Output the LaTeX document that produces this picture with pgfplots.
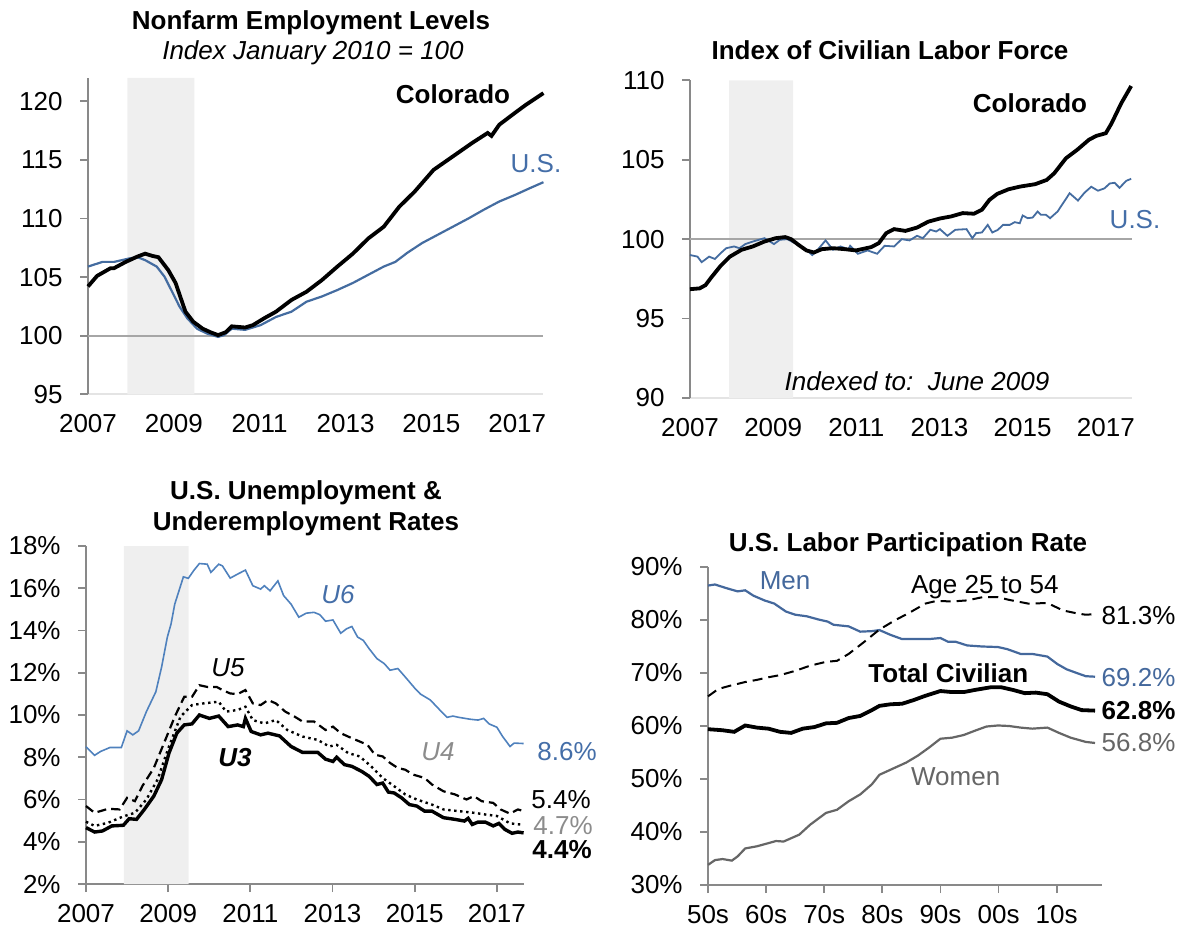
\documentclass[border=0pt]{standalone}
\usepackage{pgfplots}
\pgfplotsset{compat=1.18}
\usepackage{fontspec}
\setmainfont{Liberation Sans}

\definecolor{axgray}{RGB}{137,137,137}
\definecolor{refgray}{RGB}{166,166,166}
\definecolor{recess}{RGB}{239,239,239}
\definecolor{lightax}{RGB}{228,228,228}
\definecolor{usblue}{RGB}{68,108,160}
\definecolor{u6blue}{RGB}{79,129,189}
\definecolor{lblue}{RGB}{68,110,168}
\definecolor{menblue}{RGB}{68,104,156}
\definecolor{wgray}{RGB}{102,102,102}
\definecolor{u4gray}{RGB}{140,140,140}

\newcommand{\fs}{\fontsize{13}{15.5}\selectfont}

\pgfplotsset{
  base/.style={
    scale only axis,
    axis x line*=bottom, axis y line*=left,
    y axis line style={-, draw=axgray, line width=0.9pt},
    tick align=outside,
    ytick style={draw=axgray, line width=0.9pt},
    major tick length=4pt,
    tick label style={font=\fs, inner sep=0pt},
    yticklabel shift=8.5pt,
    xticklabel shift=6pt,
    clip=false,
  },
  lightx/.style={
    x axis line style={-, draw=lightax, line width=1pt},
    xtick style={draw=none},
  },
  grayx/.style={
    x axis line style={-, draw=axgray, line width=0.9pt},
    xtick style={draw=axgray, line width=0.9pt},
  },
}

\begin{document}
\begin{tikzpicture}[every node/.style={inner sep=0pt}]
\useasboundingbox (0,0) rectangle (593.5pt,464pt);

%%%%%%%%%%%% Panel 1
\begin{axis}[base, lightx,
  at={(44pt,266.85pt)}, anchor=south west,
  width=227.5pt, height=158.2pt,
  xmin=2007, xmax=2017.6, ymin=95, ymax=122,
  xtick={2007,2009,2011,2013,2015,2017},
  xticklabels={2007,2009,2011,2013,2015,2017},
  ytick={95,100,105,110,115,120},
  yticklabels={95,100,105,110,115,120},
]
\addplot[fill=recess, draw=none] coordinates {(2007.92,95) (2007.92,122) (2009.48,122) (2009.48,95)} \closedcycle;
\addplot[refgray, line width=1pt] coordinates {(2007,100) (2017.6,100)};
\addplot[usblue, line width=1.1pt] coordinates {
(2007.0,105.9) (2007.34,106.3) (2007.61,106.3) (2007.97,106.6) (2008.15,106.7) (2008.33,106.45) (2008.6,105.9) (2008.78,105.05) (2008.96,103.75) (2009.13,102.5) (2009.31,101.5) (2009.54,100.6) (2009.76,100.2) (2010.03,99.9) (2010.17,100.05) (2010.35,100.6) (2010.66,100.5) (2011.02,100.9) (2011.38,101.6) (2011.74,102.05) (2012.09,102.9) (2012.45,103.35) (2012.81,103.9) (2013.17,104.5) (2013.53,105.2) (2013.89,105.9) (2014.16,106.3) (2014.43,107.05) (2014.78,107.9) (2015.14,108.6) (2015.5,109.3) (2015.86,110.0) (2016.22,110.75) (2016.58,111.45) (2016.94,112.0) (2017.3,112.6) (2017.61,113.1)};
\addplot[black, line width=1.9pt] coordinates {
(2007.00,104.2) (2007.21,105.1) (2007.52,105.75) (2007.6,105.75) (2007.88,106.3) (2008.15,106.75) (2008.33,107.0) (2008.51,106.8) (2008.64,106.7) (2008.87,105.6) (2009.04,104.5) (2009.27,102.05) (2009.45,101.2) (2009.67,100.6) (2009.85,100.3) (2010.03,100.05) (2010.21,100.3) (2010.35,100.8) (2010.66,100.7) (2010.84,100.9) (2011.11,101.5) (2011.38,102.05) (2011.74,103.05) (2012.09,103.75) (2012.45,104.75) (2012.81,105.9) (2013.17,107.0) (2013.53,108.3) (2013.89,109.3) (2014.25,111.0) (2014.61,112.3) (2015.05,114.15) (2015.5,115.3) (2015.95,116.45) (2016.31,117.3) (2016.4,117.05) (2016.58,118.0) (2016.94,119.0) (2017.2,119.7) (2017.61,120.7)};
\end{axis}

%%%%%%%%%%%% Panel 2
\begin{axis}[base, lightx,
  at={(345pt,265pt)}, anchor=south west,
  width=221pt, height=158.85pt,
  xmin=2007, xmax=2017.63, ymin=90, ymax=110,
  xtick={2007,2009,2011,2013,2015,2017},
  xticklabels={2007,2009,2011,2013,2015,2017},
  ytick={90,95,100,105,110},
  yticklabels={90,95,100,105,110},
]
\addplot[fill=recess, draw=none] coordinates {(2007.94,90) (2007.94,110) (2009.48,110) (2009.48,90)} \closedcycle;
\addplot[refgray, line width=1pt] coordinates {(2007,100) (2017.63,100)};
\addplot[usblue, line width=0.9pt] coordinates {
(2007.0,99.0) (2007.18,98.9) (2007.28,98.55) (2007.46,98.9) (2007.6,98.75) (2007.73,99.1) (2007.87,99.43) (2008.06,99.54) (2008.19,99.43) (2008.33,99.69) (2008.51,99.85) (2008.79,100.06) (2009.02,99.69) (2009.16,99.96) (2009.34,100.0) (2009.52,99.75) (2009.75,99.43) (2009.94,99.0) (2010.07,99.33) (2010.26,99.92) (2010.44,99.33) (2010.62,99.54) (2010.81,99.37) (2010.85,99.58) (2011.04,99.08) (2011.27,99.29) (2011.5,99.08) (2011.68,99.58) (2011.91,99.54) (2012.09,100.0) (2012.28,99.92) (2012.46,100.21) (2012.6,100.06) (2012.78,100.59) (2012.92,100.48) (2013.01,100.63) (2013.19,100.21) (2013.38,100.59) (2013.65,100.63) (2013.79,100.06) (2013.88,100.38) (2014.02,100.42) (2014.16,100.9) (2014.27,100.42) (2014.4,100.58) (2014.53,100.9) (2014.69,100.9) (2014.81,101.07) (2014.93,101.0) (2015.0,101.49) (2015.12,101.32) (2015.24,101.36) (2015.36,101.74) (2015.44,101.53) (2015.56,101.53) (2015.66,101.32) (2015.84,101.74) (2016.13,102.89) (2016.33,102.43) (2016.49,102.93) (2016.65,103.3) (2016.81,103.05) (2016.97,103.2) (2017.09,103.5) (2017.21,103.55) (2017.33,103.23) (2017.49,103.67) (2017.61,103.8)};
\addplot[black, line width=1.9pt] coordinates {
(2007.0,96.85) (2007.23,96.9) (2007.37,97.1) (2007.5,97.55) (2007.73,98.3) (2007.96,98.9) (2008.24,99.33) (2008.51,99.54) (2008.79,99.85) (2009.06,100.06) (2009.29,100.13) (2009.43,100.0) (2009.61,99.64) (2009.8,99.29) (2009.98,99.16) (2010.17,99.37) (2010.44,99.43) (2010.72,99.37) (2010.99,99.29) (2011.36,99.5) (2011.54,99.75) (2011.72,100.38) (2011.91,100.63) (2012.18,100.52) (2012.46,100.73) (2012.73,101.1) (2013.01,101.3) (2013.28,101.43) (2013.56,101.64) (2013.83,101.6) (2014.02,101.85) (2014.2,102.47) (2014.39,102.85) (2014.66,103.14) (2014.94,103.31) (2015.3,103.46) (2015.58,103.73) (2015.76,104.15) (2016.04,105.09) (2016.31,105.62) (2016.59,106.25) (2016.77,106.5) (2017.0,106.67) (2017.14,107.3) (2017.37,108.55) (2017.61,109.64)};
\end{axis}

%%%%%%%%%%%% Panel 3
\begin{axis}[base, grayx,
  at={(43pt,22pt)}, anchor=south west,
  width=219pt, height=169pt,
  xmin=2007, xmax=2017.66, ymin=2, ymax=18,
  xtick={2007,2009,2011,2013,2015,2017},
  xticklabels={2007,2009,2011,2013,2015,2017},
  ytick={2,4,6,8,10,12,14,16,18},
  yticklabels={2\%,4\%,6\%,8\%,10\%,12\%,14\%,16\%,18\%},
]
\addplot[fill=recess, draw=none] coordinates {(2007.92,2) (2007.92,18) (2009.5,18) (2009.5,2)} \closedcycle;
\addplot[u6blue, line width=0.8pt] coordinates {
(2007.0,8.5) (2007.21,8.09) (2007.35,8.27) (2007.58,8.46) (2007.86,8.46) (2008.0,9.25) (2008.14,9.06) (2008.28,9.25) (2008.47,10.16) (2008.7,11.1) (2008.84,12.27) (2008.98,13.69) (2009.07,14.31) (2009.16,15.25) (2009.25,15.8) (2009.37,16.54) (2009.49,16.47) (2009.63,16.86) (2009.76,17.17) (2009.95,17.14) (2010.04,16.75) (2010.23,17.14) (2010.32,17.06) (2010.51,16.48) (2010.69,16.67) (2010.88,16.86) (2011.06,16.12) (2011.25,15.96) (2011.34,16.12) (2011.48,15.88) (2011.67,16.35) (2011.81,15.65) (2011.99,15.25) (2012.18,14.63) (2012.36,14.82) (2012.55,14.86) (2012.69,14.75) (2012.83,14.44) (2013.01,14.5) (2013.2,13.87) (2013.34,14.08) (2013.47,14.19) (2013.61,13.69) (2013.75,13.53) (2013.89,13.14) (2014.08,12.67) (2014.26,12.43) (2014.4,12.12) (2014.59,12.2) (2014.77,11.8) (2015.01,11.25) (2015.14,10.99) (2015.38,10.71) (2015.61,10.24) (2015.79,9.89) (2015.93,9.95) (2016.07,9.89) (2016.35,9.8) (2016.54,9.76) (2016.68,9.84) (2016.81,9.58) (2017.0,9.42) (2017.14,8.98) (2017.32,8.51) (2017.42,8.67) (2017.65,8.65)};
\addplot[black, line width=1.1pt, dash pattern=on 4.5pt off 2.5pt] coordinates {
(2007.0,5.69) (2007.21,5.37) (2007.54,5.56) (2007.82,5.53) (2008.0,6.08) (2008.19,5.92) (2008.37,6.63) (2008.65,7.49) (2008.93,8.82) (2009.16,9.92) (2009.39,10.86) (2009.58,10.86) (2009.76,11.41) (2009.95,11.33) (2010.18,11.33) (2010.32,11.18) (2010.51,11.02) (2010.69,10.99) (2010.88,11.18) (2011.06,10.55) (2011.25,10.47) (2011.43,10.71) (2011.62,10.55) (2011.85,10.16) (2012.08,9.92) (2012.27,9.69) (2012.55,9.69) (2012.83,9.29) (2013.01,9.45) (2013.2,9.14) (2013.38,8.98) (2013.57,8.82) (2013.85,8.59) (2014.03,8.12) (2014.22,8.04) (2014.4,7.73) (2014.59,7.49) (2014.77,7.41) (2014.96,7.18) (2015.24,7.02) (2015.42,6.71) (2015.7,6.39) (2015.98,6.24) (2016.26,6.0) (2016.44,6.16) (2016.63,5.92) (2016.91,5.84) (2017.09,5.53) (2017.32,5.33) (2017.51,5.53) (2017.65,5.45)};
\addplot[black, line width=1.2pt, dash pattern=on 1.2pt off 1.8pt] coordinates {
(2007.0,4.95) (2007.21,4.75) (2007.54,4.9) (2007.91,5.2) (2008.19,5.37) (2008.47,6.0) (2008.74,6.94) (2009.02,8.51) (2009.3,9.92) (2009.58,10.47) (2009.86,10.55) (2010.23,10.63) (2010.41,10.16) (2010.69,10.24) (2010.88,10.39) (2011.06,9.76) (2011.34,9.6) (2011.62,9.76) (2011.9,9.29) (2012.27,8.98) (2012.64,8.82) (2012.92,8.51) (2013.1,8.59) (2013.38,8.2) (2013.66,8.04) (2013.94,7.57) (2014.22,7.02) (2014.5,6.63) (2014.77,6.24) (2015.05,6.0) (2015.42,5.76) (2015.7,5.53) (2016.07,5.45) (2016.44,5.37) (2016.72,5.29) (2017.0,5.22) (2017.32,4.87) (2017.65,4.8)};
\addplot[black, line width=1.7pt] coordinates {
(2007.0,4.67) (2007.21,4.46) (2007.4,4.51) (2007.63,4.75) (2007.91,4.78) (2008.05,5.09) (2008.23,5.06) (2008.42,5.53) (2008.65,6.16) (2008.84,6.94) (2009.02,8.2) (2009.21,9.14) (2009.39,9.53) (2009.58,9.58) (2009.76,10.0) (2010.0,9.84) (2010.23,9.95) (2010.46,9.45) (2010.69,9.53) (2010.83,9.45) (2010.88,9.84) (2011.02,9.22) (2011.25,9.06) (2011.43,9.14) (2011.71,9.01) (2011.99,8.51) (2012.27,8.23) (2012.64,8.23) (2012.83,7.91) (2013.01,7.8) (2013.1,8.0) (2013.29,7.65) (2013.47,7.57) (2013.71,7.33) (2013.89,7.1) (2014.08,6.71) (2014.22,6.78) (2014.36,6.35) (2014.5,6.31) (2014.68,6.08) (2014.87,5.76) (2015.05,5.69) (2015.24,5.45) (2015.42,5.45) (2015.7,5.14) (2015.98,5.06) (2016.21,4.98) (2016.3,5.11) (2016.4,4.82) (2016.54,4.93) (2016.72,4.93) (2016.91,4.75) (2017.05,4.87) (2017.19,4.59) (2017.37,4.4) (2017.51,4.46) (2017.65,4.42)};
\end{axis}

%%%%%%%%%%%% Panel 4
\begin{axis}[base, grayx,
  at={(354pt,21.5pt)}, anchor=south west,
  width=197pt, height=159pt,
  xmin=1950, xmax=2017.8, ymin=30, ymax=90,
  xtick={1950,1960,1970,1980,1990,2000,2010},
  xticklabels={50s,60s,70s,80s,90s,00s,10s},
  ytick={30,40,50,60,70,80,90},
  yticklabels={30\%,40\%,50\%,60\%,70\%,80\%,90\%},
]
\addplot[menblue, line width=1.1pt] coordinates {
(1950.0,86.5) (1951.2,86.7) (1953.2,86.0) (1955.1,85.4) (1956.4,85.6) (1957.8,84.6) (1959.7,83.7) (1961.4,83.1) (1963.4,81.6) (1965.0,81.0) (1967.0,80.7) (1969.0,80.1) (1970.6,79.7) (1971.6,79.1) (1974.2,78.8) (1976.2,77.8) (1978.2,77.9) (1979.5,78.1) (1981.4,77.2) (1983.4,76.4) (1986.1,76.4) (1988.0,76.4) (1990.0,76.6) (1991.3,75.9) (1992.6,75.9) (1994.6,75.2) (1997.2,75.0) (1999.9,74.9) (2001.5,74.5) (2003.8,73.6) (2005.8,73.6) (2008.4,73.1) (2010.1,71.7) (2011.7,70.7) (2013.7,69.9) (2015.0,69.4) (2016.6,69.3)};
\addplot[black, line width=1pt, dash pattern=on 5pt off 3pt] coordinates {
(1950.0,65.6) (1951.8,67.0) (1953.8,67.6) (1956.4,68.3) (1958.4,68.7) (1960.4,69.2) (1962.4,69.6) (1965.0,70.4) (1967.6,71.4) (1970.3,72.1) (1972.2,72.3) (1974.2,73.6) (1976.8,75.8) (1979.5,78.2) (1982.1,79.9) (1984.7,81.4) (1987.4,83.1) (1989.3,83.6) (1992.0,83.5) (1994.6,83.7) (1997.2,84.3) (1999.9,84.3) (2001.8,83.8) (2005.1,83.1) (2008.4,83.2) (2011.1,81.8) (2013.7,81.2) (2015.0,81.0) (2016.6,81.1)};
\addplot[black, line width=1.9pt] coordinates {
(1950.0,59.4) (1952.5,59.2) (1954.5,58.9) (1956.4,60.1) (1958.4,59.7) (1960.4,59.5) (1962.4,58.9) (1964.3,58.7) (1966.3,59.5) (1968.3,59.8) (1970.3,60.5) (1972.2,60.6) (1974.2,61.5) (1976.2,61.9) (1978.2,63.0) (1979.5,63.8) (1981.4,64.1) (1983.4,64.2) (1985.4,64.9) (1987.4,65.7) (1990.0,66.6) (1992.0,66.4) (1994.0,66.4) (1995.9,66.8) (1998.6,67.3) (2000.5,67.3) (2002.5,66.8) (2004.5,66.2) (2006.4,66.3) (2008.4,66.0) (2010.4,64.6) (2012.4,63.7) (2014.3,63.0) (2016.6,62.9)};
\addplot[wgray, line width=1.1pt] coordinates {
(1950.0,33.8) (1951.2,34.7) (1952.5,34.9) (1954.1,34.6) (1955.1,35.4) (1956.4,36.9) (1958.4,37.3) (1960.4,37.9) (1961.7,38.3) (1963.0,38.2) (1965.7,39.5) (1967.6,41.4) (1970.3,43.6) (1972.2,44.2) (1974.2,45.8) (1976.2,47.1) (1978.2,49.0) (1979.5,50.8) (1982.1,52.1) (1984.1,53.1) (1986.1,54.4) (1988.0,55.9) (1990.0,57.6) (1992.0,57.8) (1994.0,58.3) (1995.9,59.1) (1997.9,59.9) (1999.9,60.1) (2001.8,60.0) (2003.8,59.7) (2005.8,59.5) (2008.4,59.7) (2010.4,58.7) (2012.4,57.8) (2015.0,57.0) (2016.6,56.8)};
\end{axis}

%%%%%%%%%%%% Titles and labels
\node[anchor=base, font=\fs\bfseries] at (155.5pt,449.35pt) {Nonfarm Employment Levels};
\node[anchor=base, font=\fs\itshape] at (156.5pt,434pt) {Index January 2010 = 100};
\node[anchor=base, font=\fs\bfseries] at (226.5pt,412pt) {Colorado};
\node[anchor=base, font=\fs, text=lblue] at (268pt,377.65pt) {U.S.};

\node[anchor=base, font=\fs\bfseries] at (445pt,434.35pt) {Index of Civilian Labor Force};
\node[anchor=base, font=\fs\bfseries] at (515pt,407.85pt) {Colorado};
\node[anchor=base, font=\fs, text=lblue] at (567.5pt,349.85pt) {U.S.};
\node[anchor=base, font=\fs\itshape] at (458.5pt,269pt) {Indexed to:\ \ June 2009};

\node[anchor=base, font=\fs\bfseries] at (153pt,214.35pt) {U.S. Unemployment \&};
\node[anchor=base, font=\fs\bfseries] at (153pt,199pt) {Underemployment Rates};
\node[anchor=base, font=\fs\itshape, text=lblue] at (169pt,162.35pt) {U6};
\node[anchor=base, font=\fs\itshape] at (114pt,125.65pt) {U5};
\node[anchor=base, font=\fs\itshape\bfseries] at (117.5pt,80.65pt) {U3};
\node[anchor=base, font=\fs\itshape, text=u4gray] at (219pt,84pt) {U4};
\node[anchor=base west, font=\fs, text=lblue] at (268.5pt,83.65pt) {8.6\%};
\node[anchor=base west, font=\fs] at (265.5pt,59.85pt) {5.4\%};
\node[anchor=base west, font=\fs, text=u4gray] at (266.5pt,47pt) {4.7\%};
\node[anchor=base west, font=\fs\bfseries] at (266pt,34.85pt) {4.4\%};

\node[anchor=base, font=\fs\bfseries] at (454pt,188.5pt) {U.S. Labor Participation Rate};
\node[anchor=base west, font=\fs, text=menblue] at (379.7pt,169.5pt) {Men};
\node[anchor=base west, font=\fs] at (455.35pt,167.35pt) {Age 25 to 54};
\node[anchor=base west, font=\fs\bfseries] at (434pt,122.85pt) {Total Civilian};
\node[anchor=base west, font=\fs, text=wgray] at (455.35pt,71.5pt) {Women};
\node[anchor=base west, font=\fs] at (550.65pt,152pt) {81.3\%};
\node[anchor=base west, font=\fs, text=menblue] at (550.65pt,121pt) {69.2\%};
\node[anchor=base west, font=\fs\bfseries] at (550.65pt,104.35pt) {62.8\%};
\node[anchor=base west, font=\fs, text=wgray] at (550.65pt,88.15pt) {56.8\%};
\end{tikzpicture}
\end{document}
